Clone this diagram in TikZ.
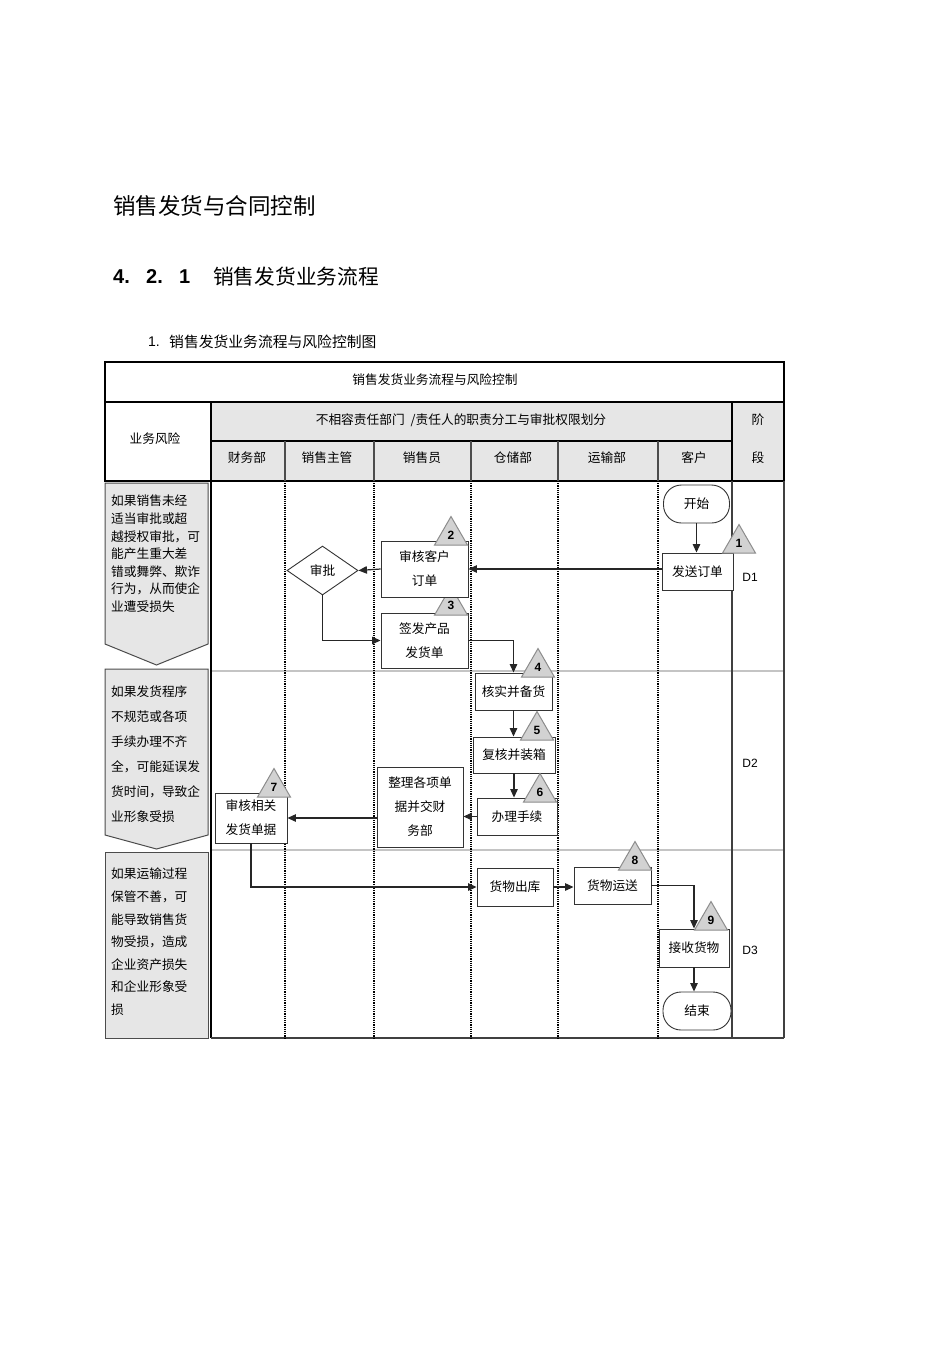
\documentclass[tikz,border=0pt]{standalone}
\usepackage{fontspec}
\setmainfont{Noto Sans CJK SC}
\newfontfamily\lat{Liberation Sans}
\usetikzlibrary{arrows.meta,shapes.geometric}
\definecolor{hdrgray}{HTML}{E6E6E6}
\definecolor{trigray}{HTML}{D2D2D2}
\definecolor{triedge}{HTML}{8C8C8C}
\definecolor{sepgray}{HTML}{C4C4C4}
\tikzset{
  box/.style={draw=black!80, fill=white, line width=0.9pt, inner sep=0pt, align=center, font=\fontsize{12.7}{24}\selectfont},
  term/.style={box, rounded corners=18pt},
  tri/.style={regular polygon, regular polygon sides=3, minimum size=38pt, inner sep=0pt, fill=trigray, draw=triedge, line width=1pt, font=\lat\bfseries\fontsize{12}{12}\selectfont},
  conn/.style={draw=black!85, line width=1.2pt, -{Triangle[length=8.5pt,width=7.5pt]}},
  txt/.style={inner sep=0pt, font=\fontsize{12.7}{15}\selectfont},
  risk/.style={inner sep=0pt, anchor=north west, align=left},
  tline/.style={draw=black, line width=1.1pt},
  lane/.style={draw=black, line width=1.2pt, densely dotted},
  riskshape/.style={fill=hdrgray, draw=black!70, line width=1pt}
}
\begin{document}
\begin{tikzpicture}[x=1pt,y=-1pt]
\useasboundingbox (0,0) rectangle (950,1345);
% page headings
\node[anchor=west, inner sep=0pt, font=\fontsize{22.5}{22.5}\selectfont] (title) at (113,206) {销售发货与合同控制};
\node[anchor=west, inner sep=0pt, font=\lat\bfseries\fontsize{20}{20}\selectfont] (h4) at (113,277) {4.};
\node[anchor=west, inner sep=0pt, font=\lat\bfseries\fontsize{20}{20}\selectfont] (h2) at (146,277) {2.};
\node[anchor=west, inner sep=0pt, font=\lat\bfseries\fontsize{20}{20}\selectfont] (h1) at (179,277) {1};
\node[anchor=west, inner sep=0pt, font=\fontsize{20.7}{20.7}\selectfont] (htext) at (213,277) {销售发货业务流程};
\node[anchor=west, inner sep=0pt, font=\lat\fontsize{14}{14}\selectfont] (s1) at (148,342) {1.};
\node[anchor=west, inner sep=0pt, font=\fontsize{14.8}{14.8}\selectfont] (stext) at (169,342) {销售发货业务流程与风险控制图};

% header fills
\fill[hdrgray] (211,402) rectangle (784,481);
% table lines (header)
\draw[tline] (105,362) rectangle (784,481);
\draw[tline] (105,402) -- (784,402);
\draw[tline] (211,402) -- (211,481);
\draw[tline] (211,441) -- (732,441);
\draw[tline] (732,402) -- (732,481);
\foreach \xx in {285,374,471,558,658}
  \draw[draw=black!70, line width=1.3pt] (\xx,441) -- (\xx,481);

\node[txt] (htitle) at (435,380) {销售发货业务流程与风险控制};
\node[txt] (hrisk) at (155,439) {业务风险};
\node[txt] (hdiv) at (461,420) {不相容责任部门\hspace{6pt}/责任人的职责分工与审批权限划分};
\node[txt] (hstage1) at (758,420) {阶};
\node[txt] (hstage2) at (758,458) {段};
\node[txt] (hfin) at (247,458) {财务部};
\node[txt] (hmgr) at (327,458) {销售主管};
\node[txt] (hsales) at (422,458) {销售员};
\node[txt] (hstore) at (513,458) {仓储部};
\node[txt] (htrans) at (607,458) {运输部};
\node[txt] (hcust) at (694,458) {客户};

% body grid
\draw[draw=sepgray, line width=1.6pt] (211,671) -- (784,671);
\draw[draw=sepgray, line width=1.6pt] (211,850) -- (784,850);
\draw[tline] (211,481) -- (211,1038);
\draw[draw=black!75, line width=1.1pt] (732,481) -- (732,1038);
\draw[draw=black!75, line width=1.1pt] (784,481) -- (784,1038);
\draw[draw=black!75, line width=1.1pt] (211,1038) -- (784,1038);
\foreach \xx in {285,374,471,558,658}
  \draw[lane] (\xx,481) -- (\xx,1038);

% risk shapes
\draw[riskshape] (105,483) -- (208,483) -- (208,644) -- (156.5,665) -- (105,644) -- cycle;
\draw[riskshape] (105,669) -- (208,669) -- (208,835) -- (156.5,849) -- (105,835) -- cycle;
\draw[riskshape] (105,852) rectangle (208,1038);
\node[risk, font=\fontsize{12.7}{17.6}\selectfont] (r1) at (111,495) {如果销售未经\\适当审批或超\\越授权审批，可\\能产生重大差\\错或舞弊、欺诈\\行为，从而使企\\业遭受损失};
\node[risk, font=\fontsize{12.7}{25}\selectfont] (r2) at (111,686) {如果发货程序\\不规范或各项\\手续办理不齐\\全，可能延误发\\货时间，导致企\\业形象受损};
\node[risk, font=\fontsize{12.7}{22.6}\selectfont] (r3) at (111,868) {如果运输过程\\保管不善，可\\能导致销售货\\物受损，造成\\企业资产损失\\和企业形象受\\损};

% stage labels
\node[inner sep=0pt, font=\lat\fontsize{12}{12}\selectfont] (d1) at (750,577) {D1};
\node[inner sep=0pt, font=\lat\fontsize{12}{12}\selectfont] (d2) at (750,763) {D2};
\node[inner sep=0pt, font=\lat\fontsize{12}{12}\selectfont] (d3) at (750,950) {D3};

% flow nodes
\node[term, minimum width=66pt, minimum height=38pt] (start) at (696.5,504) {开始};
\node[box, minimum width=71pt, minimum height=37pt] (send) at (697.5,571.5) {发送订单};
\node[diamond, draw=black!80, fill=white, line width=0.9pt, inner sep=0pt, minimum width=71pt, minimum height=49pt, font=\fontsize{12.7}{15}\selectfont] (approve) at (322.5,570.5) {审批};
\node[box, minimum width=87pt, minimum height=55pt] (issue) at (424.5,640.5) {签发产品\\发货单};
\node[box, minimum width=77pt, minimum height=37pt] (verify) at (513.5,691.5) {核实并备货};
\node[box, minimum width=82pt, minimum height=36pt] (recheck) at (514,755) {复核并装箱};
\node[box, minimum width=80pt, minimum height=37pt] (proc) at (517,816.5) {办理手续};
\node[box, minimum width=86pt, minimum height=80pt] (arrange) at (420,807) {整理各项单\\据并交财\\务部};
\node[box, minimum width=72pt, minimum height=50pt] (review) at (251,818) {审核相关\\发货单据};
\node[box, minimum width=76pt, minimum height=38pt] (out) at (515,887) {货物出库};
\node[box, minimum width=77pt, minimum height=37pt] (ship) at (612.5,885.5) {货物运送};
\node[box, minimum width=70pt, minimum height=38pt] (recv) at (694,948) {接收货物};
\node[term, minimum width=68pt, minimum height=38pt] (end) at (697,1011) {结束};

% control point triangles
\node[tri] (t1) at (739,543.5) {1};
\node[tri] (t3) at (451,605.5) {3};
\node[box, minimum width=87pt, minimum height=56pt] (audit) at (424.5,569) {审核客户\\订单};
\node[tri] (t2) at (451,535.5) {2};
\node[tri] (t4) at (538,667.5) {4};
\node[tri] (t5) at (537,730.5) {5};
\node[tri] (t6) at (540,792.5) {6};
\node[tri] (t7) at (274,787.5) {7};
\node[tri] (t8) at (635,860.5) {8};
\node[tri] (t9) at (711,920.5) {9};

% connectors
\draw[conn] (start.south) -- (start.south |- send.north);
\draw[conn] (audit.east -| send.west) -- (audit.east);
\draw[conn] (audit.west) -- (approve.east);
\draw[conn] (approve.south) |- (issue.west);
\draw[conn] (issue.east) -| (verify.north);
\draw[conn] (verify.south) -- (verify.south |- recheck.north);
\draw[conn] (recheck.south) -- (recheck.south |- proc.north);
\draw[conn] (proc.west) -- (proc.west -| arrange.east);
\draw[conn] (review.east -| arrange.west) -- (review.east);
\draw[conn] (review.south) |- (out.west);
\draw[conn] (out.east) -- (out.east -| ship.west);
\draw[conn] (ship.east) -| (recv.north);
\draw[conn] (recv.south) -- (recv.south |- end.north);
\end{tikzpicture}
\end{document}
